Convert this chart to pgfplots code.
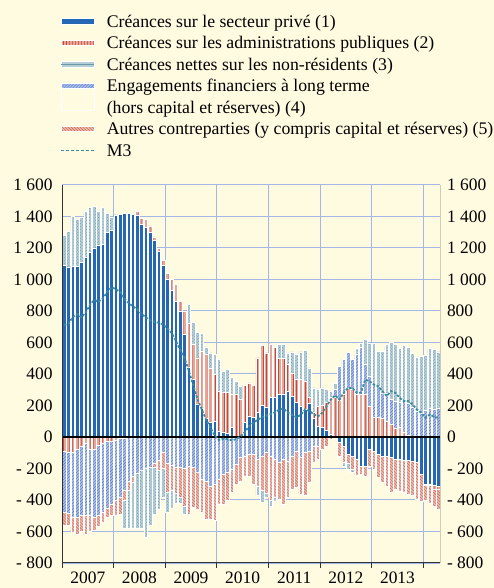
\documentclass[border=0pt]{standalone}
\usepackage{pgfplots}
\pgfplotsset{compat=1.18}
\usepackage{pgfplotstable}
\usetikzlibrary{patterns}
\usepackage{fontspec}
\setmainfont{Liberation Serif}
\definecolor{bg}{HTML}{FFFBE0}
\definecolor{c1}{HTML}{2566B5}
\definecolor{c2}{HTML}{E6A698}
\definecolor{p2}{HTML}{C4493C}
\definecolor{c3}{HTML}{B4CDD6}
\definecolor{p3}{HTML}{6A9AAA}
\definecolor{c4}{HTML}{AABDE8}
\definecolor{p4}{HTML}{5579C6}
\definecolor{c5}{HTML}{EDB6A9}
\definecolor{p5}{HTML}{C76A5B}
\definecolor{mthree}{HTML}{3A8C9C}
\definecolor{gridc}{HTML}{A5B6E6}
\definecolor{axc}{HTML}{333333}
\definecolor{axr}{HTML}{7D776A}

\pgfplotstableread{
k s1 s2 s3 s4 s5 m3
0 1090 -90 190 -390 -80 710
1 1080 -95 225 -390 -75 720
2 1085 -100 315 -410 -95 760
3 1085 -80 295 -430 -110 780
4 1110 -60 285 -440 -100 760
5 1140 -40 290 -460 -120 790
6 1175 -80 285 -420 -100 840
7 1200 -80 265 -430 -80 870
8 1220 -50 210 -450 -70 860
9 1225 -40 235 -440 -60 880
10 1300 -30 120 -420 -60 920
11 1310 -30 85 -400 -70 950
12 1410 -20 0 -380 -100 940
13 1415 -10 0 -370 -110 920
14 1420 -10 -180 -330 -60 880
15 1420 0 -240 -280 -60 850
16 1415 0 -290 -250 -40 830
17 1410 20 -350 -230 0 810
18 1350 40 -370 -210 0 780
19 1330 50 -440 -200 0 760
20 1300 40 -370 -190 0 740
21 1250 20 -300 -170 -20 730
22 1180 20 -250 -150 -60 725
23 1090 30 -180 -100 -100 715
24 1000 40 -130 -170 -180 690
25 930 70 -110 -180 -160 660
26 860 110 -60 -190 -170 610
27 800 60 -40 -190 -190 550
28 650 150 -50 -200 -240 500
29 440 285 116 -184 -306 420
30 365 222 141 -195 -252 330
31 205 297 163 -225 -233 240
32 185 358 116 -270 -209 175
33 120 403 49 -280 -240 110
34 95 344 95 -310 -210 60
35 100 296 126 -300 -230 10
36 38 253 201 -270 -156 -20
37 32 249 137 -236 -190 -10
38 21 260 147 -225 -180 -15
39 59 211 106 -205 -147 -20
40 0 270 84 -173 -127 -15
41 5 233 85 -131 -148 5
42 91 239 0 -120 -127 30
43 133 211 0 -110 -140 70
44 122 205 0 -110 -190 90
45 154 348 -60 -141 -170 110
46 200 382 -76 -120 -220 125
47 190 344 -20 -100 -260 135
48 249 342 -40 -120 -280 145
49 255 315 -30 -141 -240 155
50 270 228 89 -162 -233 175
51 274 226 87 -141 -285 180
52 291 169 74 -152 -232 155
53 260 147 133 -120 -211 140
54 222 143 158 -89 -232 125
55 196 169 175 -131 -232 140
56 175 179 197 -100 -273 175
57 211 38 190 -89 -200 165
58 116 38 158 -57 -105 145
59 65 131 110 -57 -84 130
60 59 141 112 0 -78 154
61 40 181 81 0 -57 196
62 20 231 40 0 -15 238
63 0 249 40 51 -4 264
64 -36 230 -10 219 -84 238
65 -57 272 -22 220 -105 281
66 -110 312 -35 226 -60 312
67 -120 302 -21 192 -85 312
68 -141 270 35 255 -100 281
69 -184 270 29 298 -50 281
70 -184 270 162 190 -63 365
71 -78 196 211 190 -106 354
72 -89 122 264 211 -116 333
73 -110 122 221 201 -147 323
74 -120 116 264 164 -169 291
75 -120 101 307 179 -190 260
76 -131 80 363 158 -221 291
77 -141 53 359 175 -190 281
78 -141 59 345 161 -201 249
79 -150 30 350 200 -202 228
80 -150 10 356 201 -213 228
81 -155 0 343 190 -218 207
82 -160 0 344 164 -235 175
83 -240 0 362 150 -170 154
84 -300 -5 351 169 -100 122
85 -300 -5 381 180 -115 143
86 -305 -30 380 175 -105 129
87 -310 -25 360 180 -125 120
}\data

% strut: 16.5bp above the baseline, 5bp below it (21.5bp per legend row)
\newcommand\lstrut{\rule[-5bp]{0pt}{21.5bp}}

\tikzset{
  f1/.style={fill=c1},
  f2/.style={fill=c2, postaction={pattern=vertical lines, pattern color=p2}},
  f3/.style={fill=c3, postaction={pattern=crosshatch dots, pattern color=p3}},
  f4/.style={fill=c4, postaction={pattern=north east lines, pattern color=p4}},
  f5/.style={fill=c5, postaction={pattern=north west lines, pattern color=p5}},
}

\pgfplotsset{
  base/.style={scale only axis, width=378.5bp, height=378bp,
    at={(62bp,25bp)}, anchor=south west,
    xmin=-0.5, xmax=87.5, ymin=-800, ymax=1600,
    ytick={-800,-600,...,1600},
    yticklabels={- 800,- 600,- 400,- 200,0,200,400,600,800,1 000,1 200,1 400,1 600},
    major tick length=0pt},
  bars/.style={ybar stacked, bar width=3.6bp},
  sw/.style={legend image code/.code={\path[#1] (0bp,-2.8bp) rectangle (33bp,2.8bp);}},
}

\begin{document}
\begin{tikzpicture}[font=\fontsize{17.5}{21}\selectfont]
\fill[bg] (0,0) rectangle (494bp,588bp);

% back axis: grid, positive bars, right labels, legend
\begin{axis}[base, bars,
  xtick={-0.5,11.5,...,83.5}, xticklabels={},
  grid=major, grid style={gridc, line width=1bp},
  axis line style={draw=none},
  yticklabel pos=right, ytick pos=right,
  yticklabel style={xshift=3bp},
  legend cell align=left,
  legend style={at={(0,1)}, anchor=north west, xshift=-2bp, yshift=174.5bp,
    draw=none, fill=none, inner sep=0pt, column sep=12bp, row sep=0pt,
    nodes={inner sep=0pt, text depth={}},
    font=\fontsize{17.8}{21}\selectfont},
  every axis plot/.append style={draw=white, line width=0.6bp},
]
\addlegendimage{sw=f1}
\addlegendentry{\lstrut Créances sur le secteur privé (1)}
\addlegendimage{sw=f2}
\addlegendentry{\lstrut Créances sur les administrations publiques (2)}
\addlegendimage{legend image code/.code={\path[fill=c3] (0bp,-2.8bp) rectangle (33bp,2.8bp); \draw[p3, line width=0.6bp] (0bp,0bp) -- (33bp,0bp);}}
\addlegendentry{\lstrut Créances nettes sur les non-résidents (3)}
\addlegendimage{legend image code/.code={\path (0bp,-13.55bp) rectangle (33bp,13.55bp); \path[f4] (0bp,7.95bp) rectangle (33bp,13.55bp);}}
\addlegendentry{\vtop{\offinterlineskip\hbox{\lstrut Engagements financiers à long terme}\hbox{\lstrut (hors capital et réserves) (4)}}}
\addlegendimage{sw=f5}
\addlegendentry{\lstrut Autres contreparties (y compris capital et réserves) (5)}
\addlegendimage{legend image code/.code={\draw[mthree, line width=1.6bp, dash pattern=on 3bp off 2bp] (0bp,0bp) -- (33bp,0bp);}}
\addlegendentry{\lstrut M3}

\addplot[f1, forget plot] table[x=k, y expr={max(\thisrow{s1},0)}] {\data};
\addplot[f2, forget plot] table[x=k, y expr={max(\thisrow{s2},0)}] {\data};
\addplot[f4, forget plot] table[x=k, y expr={max(\thisrow{s4},0)}] {\data};
\addplot[f5, forget plot] table[x=k, y expr={max(\thisrow{s5},0)}] {\data};
\addplot[f3, forget plot] table[x=k, y expr={max(\thisrow{s3},0)}] {\data};
\end{axis}

% negative bars
\begin{axis}[base, bars, hide axis,
  every axis plot/.append style={draw=white, line width=0.6bp}]
\addplot[f1] table[x=k, y expr={min(\thisrow{s1},0)}] {\data};
\addplot[f2] table[x=k, y expr={min(\thisrow{s2},0)}] {\data};
\addplot[f4] table[x=k, y expr={min(\thisrow{s4},0)}] {\data};
\addplot[f5] table[x=k, y expr={min(\thisrow{s5},0)}] {\data};
\addplot[f3] table[x=k, y expr={min(\thisrow{s3},0)}] {\data};
\end{axis}

% front axis: zero line, M3, axis lines, labels
\begin{axis}[base,
  axis line style={draw=none},
  xtick={5.5,17.5,...,77.5}, xticklabels={2007,2008,2009,2010,2011,2012,2013},
  xtick pos=left, xticklabel style={yshift=-5bp},
  extra x ticks={-0.5,11.5,...,83.5}, extra x tick labels={},
  extra x tick style={major tick length=4.5bp, tick align=outside,
     tick style={axc, line width=1bp}},
  yticklabel pos=left, ytick pos=left,
  yticklabel style={xshift=-6bp},
]
\addplot[black, line width=1.3bp] coordinates {(-0.5,0) (87.5,0)};
\addplot[mthree, line width=1.8bp, dash pattern=on 2.5bp off 1.6bp] table[x=k, y=m3] {\data};
\draw[axc, line width=1.1bp] (rel axis cs:0,0) -- (rel axis cs:0,1);
\draw[axc, line width=1.1bp] (rel axis cs:0,0) -- (rel axis cs:1,0);
\draw[axr, line width=1.8bp] (rel axis cs:1,0) -- (rel axis cs:1,1);
\end{axis}
\end{tikzpicture}
\end{document}
